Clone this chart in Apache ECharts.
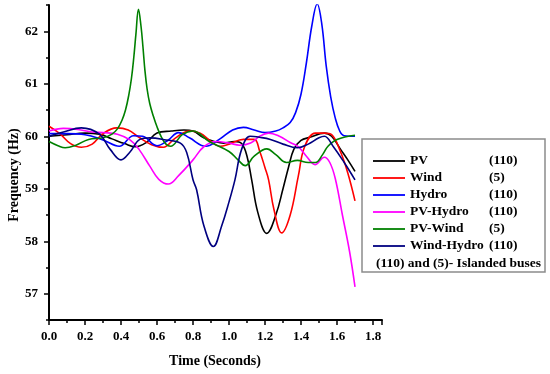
<!DOCTYPE html>
<html><head><meta charset="utf-8">
<script src="https://cdn.jsdelivr.net/npm/echarts@6/dist/echarts.min.js"></script>
<style>html,body{margin:0;padding:0;background:#fff}#c{width:550px;height:374px}</style>
</head><body><div id="c"></div>
<script>
// [time (s), frequency (Hz)]
const pv = [[0,60.0],[0.1,60.03],[0.2,60.06],[0.28,60.04],[0.35,59.95],[0.42,59.86],[0.48,59.8],[0.54,59.88],[0.6,60.06],[0.68,60.1],[0.75,60.12],[0.8,60.1],[0.86,59.97],[0.92,59.9],[0.97,59.87],[1.03,59.9],[1.07,59.86],[1.1,59.62],[1.126,59.17],[1.16,58.55],[1.21,58.15],[1.26,58.5],[1.3,59.0],[1.33,59.4],[1.36,59.75],[1.4,59.92],[1.45,59.98],[1.53,60.06],[1.57,60.0],[1.62,59.75],[1.66,59.55],[1.7,59.33]];
const wind = [[0,60.19],[0.06,60.05],[0.12,59.86],[0.18,59.79],[0.24,59.85],[0.3,60.05],[0.376,60.16],[0.44,60.12],[0.5,59.98],[0.57,59.84],[0.635,59.79],[0.7,59.96],[0.78,60.1],[0.84,60.06],[0.9,59.9],[0.95,59.81],[1.0,59.85],[1.08,59.94],[1.14,59.94],[1.17,59.72],[1.2,59.4],[1.22,59.17],[1.25,58.6],[1.293,58.16],[1.34,58.5],[1.385,59.24],[1.42,59.8],[1.48,60.06],[1.53,60.06],[1.57,60.03],[1.62,59.7],[1.66,59.3],[1.7,58.77]];
const hydro = [[0,60.05],[0.1,60.05],[0.2,60.03],[0.3,59.93],[0.39,59.81],[0.47,60.01],[0.52,60.0],[0.6,59.82],[0.66,59.92],[0.72,60.07],[0.78,59.97],[0.87,59.81],[0.95,59.95],[1.02,60.12],[1.08,60.17],[1.14,60.12],[1.2,60.07],[1.26,60.1],[1.3,60.16],[1.34,60.26],[1.37,60.45],[1.4,60.8],[1.43,61.4],[1.46,62.1],[1.49,62.52],[1.515,62.15],[1.54,61.34],[1.565,60.75],[1.59,60.35],[1.615,60.1],[1.64,60.01],[1.7,60.0]];
const pvHydro = [[0,60.1],[0.08,60.15],[0.16,60.13],[0.24,60.08],[0.3,60.07],[0.38,60.04],[0.45,59.93],[0.5,59.75],[0.56,59.43],[0.61,59.18],[0.663,59.09],[0.72,59.25],[0.8,59.55],[0.86,59.8],[0.93,59.9],[1.0,59.87],[1.06,59.83],[1.12,59.87],[1.17,60.0],[1.22,60.06],[1.28,60.0],[1.34,59.88],[1.385,59.8],[1.43,59.62],[1.478,59.46],[1.53,59.6],[1.56,59.5],[1.59,59.2],[1.63,58.5],[1.67,57.8],[1.7,57.13]];
const pvWind = [[0,59.9],[0.05,59.82],[0.09,59.78],[0.15,59.83],[0.22,59.94],[0.3,59.97],[0.35,60.04],[0.38,60.14],[0.405,60.3],[0.425,60.5],[0.443,60.78],[0.458,61.1],[0.471,61.5],[0.483,61.95],[0.497,62.42],[0.511,62.1],[0.522,61.7],[0.533,61.25],[0.545,60.9],[0.56,60.62],[0.58,60.38],[0.6,60.18],[0.625,59.98],[0.65,59.85],[0.675,59.81],[0.74,60.03],[0.8,60.1],[0.89,59.9],[1.0,59.71],[1.05,59.55],[1.09,59.44],[1.14,59.62],[1.21,59.76],[1.26,59.65],[1.32,59.5],[1.38,59.54],[1.44,59.5],[1.48,59.5],[1.52,59.65],[1.55,59.81],[1.6,59.94],[1.7,60.02]];
const windHydro = [[0,60.0],[0.08,60.08],[0.18,60.16],[0.28,60.04],[0.34,59.75],[0.4,59.55],[0.45,59.7],[0.505,59.94],[0.56,59.97],[0.65,59.93],[0.73,59.87],[0.765,59.69],[0.8,59.17],[0.82,58.98],[0.86,58.3],[0.913,57.9],[0.96,58.3],[1.0,58.75],[1.033,59.17],[1.07,59.75],[1.117,60.0],[1.17,59.98],[1.23,59.94],[1.3,59.85],[1.38,59.78],[1.44,59.85],[1.5,59.97],[1.53,60.0],[1.58,59.8],[1.64,59.5],[1.7,59.17]];

const names = ['PV','Wind','Hydro','PV-Hydro','PV-Wind','Wind-Hydro'];
const buses = ['(110)','(5)','(110)','(110)','(5)','(110)'];
const colors = ['#000000','#ff0000','#0000ff','#ff00ff','#008000','#000080'];
const seriesData = [pv, wind, hydro, pvHydro, pvWind, windHydro];
const xTicks = [0,0.2,0.4,0.6,0.8,1.0,1.2,1.4,1.6,1.8];
const yTicks = [57,58,59,60,61,62];
const yMinorTicks = [56.5,57.5,58.5,59.5,60.5,61.5,62.5];

const font = '"Liberation Serif","Times New Roman",serif';
const chart = echarts.init(document.getElementById('c'));
chart.setOption({
  animation: false,
  backgroundColor: '#fff',
  grid: {left: 49, top: 5, right: 168, bottom: 54, containLabel: false},
  xAxis: {
    type: 'value', min: 0, max: 1.85, interval: 0.2,
    axisLine: {show: true, onZero: false, lineStyle: {color: '#000', width: 2}},
    axisTick: {show: true, length: 5, lineStyle: {color: '#000', width: 1.5}},
    minorTick: {show: true, splitNumber: 2, length: 3, lineStyle: {color: '#000', width: 1.5}},
    splitLine: {show: false},
    axisLabel: {fontFamily: font, fontWeight: 'bold', fontSize: 13, color: '#000', margin: 10,
      formatter: v => xTicks.some(t => Math.abs(t - v) < 1e-6) ? v.toFixed(1) : ''}
  },
  yAxis: [{
    type: 'value', min: 56.5, max: 62.5, position: 'left', offset: 0,
    axisLine: {show: true, onZero: false, lineStyle: {color: '#000', width: 2}},
    axisTick: {show: true, length: 5, customValues: yTicks, lineStyle: {color: '#000', width: 1.5}},
    splitLine: {show: false},
    axisLabel: {customValues: yTicks, fontFamily: font, fontWeight: 'bold', fontSize: 13, color: '#000', margin: 11}
  }, {
    type: 'value', min: 56.5, max: 62.5, position: 'left', offset: 0,
    axisLine: {show: false},
    axisTick: {show: true, length: 3, customValues: yMinorTicks, lineStyle: {color: '#000', width: 1.5}},
    splitLine: {show: false},
    axisLabel: {show: false}
  }],
  legend: {
    left: 368, top: 149, orient: 'vertical', itemGap: 3, itemWidth: 32, itemHeight: 1.8,
    icon: 'rect',
    data: names,
    textStyle: {fontFamily: font, fontWeight: 'bold', fontSize: 13.5, color: '#000', lineHeight: 14,
      rich: {a: {width: 79, fontFamily: font, fontWeight: 'bold', fontSize: 13.5, color: '#000'},
             b: {fontFamily: font, fontWeight: 'bold', fontSize: 13.5, color: '#000'}}},
    formatter: n => '{a|' + n + '}{b|' + buses[names.indexOf(n)] + '}'
  },
  graphic: [
    {type: 'rect', shape: {x: 362, y: 139, width: 183, height: 133}, style: {fill: 'none', stroke: '#8c8c8c', lineWidth: 1.5}},
    {type: 'text', x: 376, y: 264, style: {text: '(110) and (5)- Islanded buses', font: 'bold 13.5px ' + font, fill: '#000', verticalAlign: 'middle'}},
    {type: 'text', x: 14, y: 175, rotation: Math.PI/2, style: {text: 'Frequency (Hz)', font: 'bold 14px ' + font, fill: '#000', align: 'center', verticalAlign: 'middle'}},
    {type: 'text', x: 215, y: 361, style: {text: 'Time (Seconds)', font: 'bold 14px ' + font, fill: '#000', align: 'center', verticalAlign: 'middle'}}
  ],
  series: seriesData.map((d, i) => ({
    name: names[i], type: 'line', data: d, smooth: 0.4, symbol: 'none', clip: true, yAxisIndex: 0,
    lineStyle: {color: colors[i], width: 1.6}, itemStyle: {color: colors[i]}
  }))
});
</script></body></html>
